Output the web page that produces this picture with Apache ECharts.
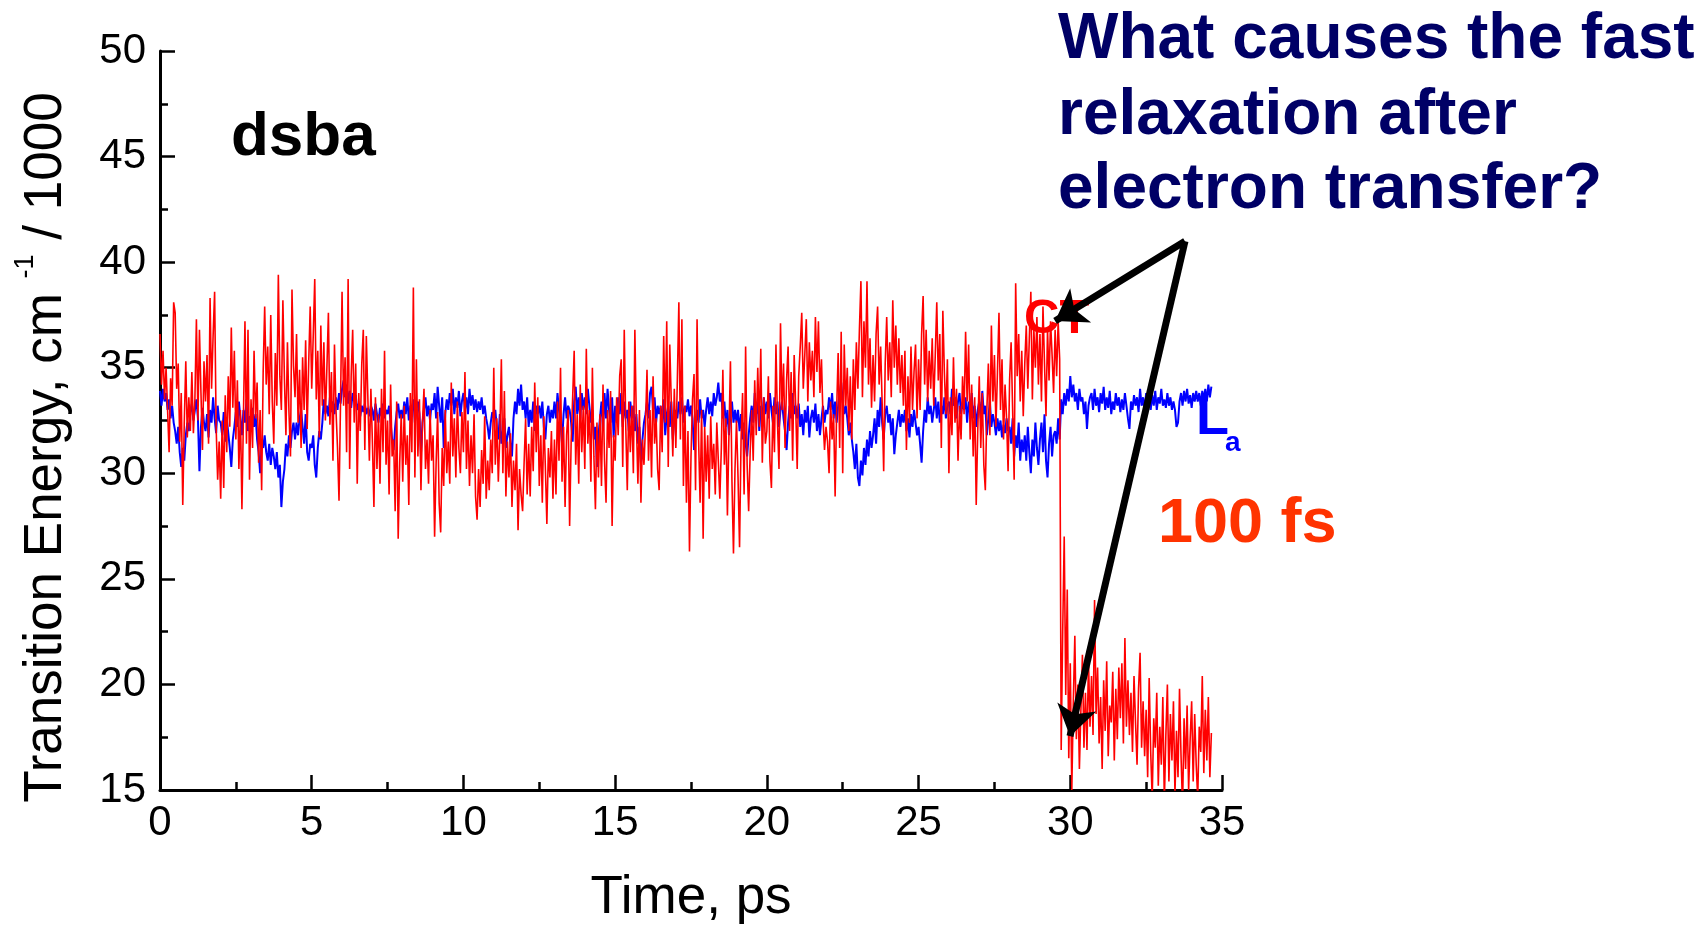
<!DOCTYPE html>
<html><head><meta charset="utf-8">
<script src="https://cdn.jsdelivr.net/npm/echarts@6/dist/echarts.min.js"></script>
<style>html,body{margin:0;padding:0;background:#fff}#chart{width:1703px;height:925px}</style>
</head><body><div id="chart"></div>
<script>
// ---- data ----
const timeStep = 0.05; // ps between samples, both series start at t = 0
const xTickValues = [0, 5, 10, 15, 20, 25, 30, 35];
const yTickValues = [15, 20, 25, 30, 35, 40, 45, 50];

// CT state transition energy (cm^-1 / 1000)
const ctValues = [
36.6,34.2,35.8,33.5,35.0,33.0,31.0,34.5,33.2,38.1,
37.6,34.0,35.2,31.5,33.8,28.5,32.4,35.3,31.7,33.6,
32.0,34.8,31.9,33.5,37.3,32.5,36.8,33.8,31.1,35.3,
33.4,35.6,31.4,38.3,34.0,36.5,38.6,32.2,29.7,31.5,
28.8,32.5,29.3,33.7,31.0,34.6,32.2,36.9,33.1,35.8,
31.6,34.4,30.2,33.0,28.3,32.7,37.2,31.4,36.8,29.7,
33.5,31.2,35.8,32.6,34.3,30.5,33.0,29.2,34.8,37.9,
34.2,36.0,32.8,37.5,33.4,31.4,35.7,33.2,39.4,34.6,
33.0,38.2,34.5,31.8,36.2,32.9,30.8,38.7,35.1,33.6,
36.6,32.4,34.9,31.2,35.5,33.0,36.3,32.1,35.2,37.9,
34.0,36.5,39.2,33.5,35.8,31.7,37.0,33.2,36.2,32.5,
35.0,37.6,32.3,34.8,30.6,36.1,33.0,31.2,28.7,33.4,
38.6,33.2,35.5,31.0,39.2,30.2,34.6,36.8,32.4,35.2,
29.5,33.8,32.0,35.2,36.8,31.1,36.5,33.6,30.6,34.0,
31.5,28.4,33.6,30.2,32.8,29.5,34.0,31.0,35.8,30.4,
32.5,29.0,34.2,30.8,31.6,28.2,33.4,26.9,30.5,32.8,
29.6,33.2,30.4,31.8,28.5,33.8,31.0,38.8,29.8,35.4,
30.8,33.5,29.2,32.4,34.0,30.2,31.6,29.5,33.0,30.6,
31.8,27.0,30.5,32.9,28.6,27.2,31.2,29.4,33.0,30.0,
31.5,29.5,34.3,30.8,32.6,29.8,33.4,31.2,30.0,32.9,
31.0,34.8,30.2,32.5,29.4,31.8,30.0,32.8,28.9,27.8,
30.2,28.4,31.1,29.5,32.7,28.8,30.6,29.2,31.6,30.0,
35.0,30.4,32.6,29.6,31.8,35.4,30.0,33.9,28.9,31.5,
29.8,31.9,28.4,30.6,29.2,31.4,27.3,30.2,29.0,28.2,
30.5,32.6,29.0,31.4,28.9,32.2,30.1,34.3,31.0,33.6,
29.4,31.8,28.6,32.7,30.3,27.6,31.2,29.8,32.0,28.8,
31.6,29.0,33.4,30.6,35.0,29.6,32.2,28.4,31.8,33.0,
27.5,31.5,33.6,35.8,30.4,32.8,29.5,34.2,31.0,33.2,
30.2,35.9,31.4,33.0,29.6,35.0,30.8,28.3,32.4,29.8,
32.8,29.4,34.2,30.6,28.6,33.0,31.2,33.9,27.5,31.8,
30.6,33.6,31.8,34.6,35.4,30.3,36.8,32.2,29.2,33.4,
31.0,33.2,30.0,36.8,32.4,29.5,33.0,28.6,31.6,30.4,
32.2,34.9,30.6,33.0,29.8,34.6,31.4,32.6,30.2,29.2,
33.2,31.0,36.5,32.4,37.2,30.3,36.1,33.4,30.8,34.0,
31.2,34.4,38.1,31.6,37.3,29.4,33.2,28.6,32.0,26.3,
30.8,33.5,34.7,29.2,37.3,31.6,28.6,33.0,26.9,32.2,
29.6,31.8,28.8,32.7,30.2,31.4,29.0,32.4,30.6,28.8,
31.2,34.9,30.4,32.6,28.0,31.8,35.3,29.6,26.2,30.2,
32.5,29.8,26.5,31.6,33.8,29.0,36.0,30.4,28.2,31.0,
33.0,30.6,34.4,31.8,35.0,32.2,35.9,30.5,33.6,31.4,
32.0,34.6,30.6,29.3,33.2,31.0,36.1,32.4,30.2,37.1,
33.0,35.2,31.2,34.4,36.0,32.0,34.8,30.6,35.6,33.2,
30.2,34.6,36.0,37.6,34.0,35.6,37.3,33.4,36.2,34.4,
35.8,33.6,37.4,34.8,37.2,33.8,35.4,32.6,31.1,32.2,
31.5,30.0,33.4,31.6,32.8,28.9,33.0,35.7,31.2,36.7,
30.0,36.1,33.2,35.0,32.0,34.6,31.6,35.4,33.0,36.2,
34.0,36.8,39.1,33.6,37.2,35.0,39.1,34.2,36.4,33.1,
35.6,33.4,36.6,37.9,34.2,36.0,33.3,30.1,35.2,37.4,
34.4,36.2,33.6,38.2,35.0,37.0,34.2,36.4,33.8,35.6,
33.2,35.8,31.1,34.6,32.4,36.0,33.0,34.8,36.1,32.6,
35.4,33.0,36.6,38.4,34.2,36.8,33.4,35.8,34.0,36.4,
33.2,35.6,38.1,34.4,36.6,31.2,37.7,34.8,32.8,35.4,
30.0,33.6,31.8,35.5,32.4,34.0,30.6,33.2,31.6,34.6,
32.8,36.7,33.4,36.1,31.6,34.2,30.8,33.6,28.5,32.0,
34.6,31.2,33.8,30.4,29.2,33.0,35.2,31.8,37.0,33.4,
35.6,32.2,34.8,37.6,33.0,35.4,31.6,34.2,32.6,30.1,
34.4,36.2,33.0,29.7,39.0,34.6,36.6,33.4,35.8,32.7,
35.2,37.0,34.0,36.4,38.6,33.5,36.8,35.0,37.4,34.2,
36.6,33.4,37.9,35.2,32.7,36.8,34.4,37.2,35.6,33.8,
36.8,34.6,37.2,35.4,
16.9,22.5,27.0,19.5,24.5,16.5,21.0,15.0,19.2,
22.3,17.4,20.0,16.0,18.8,21.4,17.0,
19.6,16.9,21.2,18.0,20.4,17.6,24.0,18.6,20.8,17.2,
19.4,16.0,20.2,17.8,21.1,16.6,19.0,18.2,20.6,16.4,
19.8,17.4,20.8,18.4,21.0,17.2,22.2,18.0,20.2,17.6,
19.6,16.8,20.4,18.2,16.2,19.8,21.5,17.0,19.2,16.6,
18.8,15.6,20.3,16.8,14.6,18.4,17.0,19.6,15.2,18.0,
16.2,19.4,14.4,17.6,20.0,15.4,18.6,16.4,19.2,14.8,
17.8,15.6,19.8,16.6,14.2,18.4,16.0,19.0,15.0,17.4,
19.2,15.4,18.6,16.2,14.6,18.0,16.8,20.4,15.8,18.8,16.4,19.4,15.6,17.7
];

// La state transition energy (cm^-1 / 1000)
const laValues = [
33.9,33.2,34.0,33.4,33.8,33.0,33.5,32.6,33.2,32.4,
32.0,31.4,32.2,31.0,30.3,31.2,30.6,31.8,32.4,32.0,
32.9,33.3,32.5,33.0,33.5,32.6,30.1,32.2,33.1,32.4,
32.0,32.8,31.7,33.0,32.4,33.6,32.6,31.9,33.2,32.5,
32.4,31.8,32.9,31.5,32.6,31.9,31.2,30.3,31.6,32.2,
32.9,32.2,33.4,32.6,31.8,33.0,32.4,33.5,32.0,32.7,
32.6,33.1,32.2,32.8,31.6,31.0,30.0,31.4,31.2,31.8,
31.0,30.6,31.4,30.4,31.2,30.8,30.2,31.0,29.8,30.4,
28.4,29.6,30.2,31.4,30.8,31.8,31.2,32.0,32.4,31.6,
32.4,31.8,32.6,33.0,32.2,31.4,32.8,31.0,30.6,31.4,
31.2,31.8,30.4,29.8,31.2,32.0,31.6,32.4,33.5,32.8,
33.2,32.7,33.6,32.9,33.4,32.8,33.6,33.0,33.8,33.3,
34.0,34.4,33.6,34.2,33.3,33.9,33.1,33.8,33.4,33.7,
33.0,33.3,32.7,33.2,32.9,33.3,32.8,33.1,32.7,33.2,
33.0,32.5,33.3,32.8,32.4,33.1,32.7,33.3,32.6,33.0,
32.8,33.2,32.4,31.6,31.1,32.2,32.9,33.3,32.6,33.0,
32.6,33.4,32.8,33.6,32.5,33.2,32.9,33.5,32.4,33.1,
33.4,32.8,30.9,32.4,33.0,33.6,32.7,33.2,32.5,33.3,
33.0,33.8,32.6,34.1,33.2,32.4,33.6,31.2,32.8,33.5,
33.0,33.8,33.2,34.0,32.8,33.6,33.1,33.9,32.7,33.4,
33.8,33.0,33.6,32.8,34.0,33.2,33.7,33.0,33.5,32.9,
33.4,33.0,33.6,32.8,33.2,32.6,32.2,31.6,32.4,32.9,
32.6,33.0,32.2,31.6,32.8,31.4,32.0,32.6,31.2,31.8,
32.2,31.4,30.8,32.6,33.4,32.8,34.0,33.2,34.2,33.0,
33.4,32.6,33.6,32.2,33.0,32.4,33.4,32.0,33.2,32.8,
33.2,32.6,33.4,32.2,31.6,32.8,33.2,32.4,33.0,32.6,
33.4,32.6,33.8,33.0,32.4,31.4,32.8,33.6,32.6,33.2,
33.0,32.4,31.5,33.4,34.1,32.8,33.6,32.6,33.8,33.0,
33.6,32.8,34.0,33.2,32.4,33.0,31.6,32.2,30.3,31.8,
32.6,33.4,32.0,33.8,32.6,34.0,33.0,32.4,33.6,31.7,
33.2,32.4,33.6,32.8,33.8,32.2,33.4,32.6,33.0,32.0,
33.4,32.6,33.2,32.0,32.8,31.4,32.2,30.5,31.6,32.4,
32.8,33.4,32.6,33.8,34.1,33.0,33.6,32.4,33.2,32.8,
33.2,32.4,33.5,31.8,32.8,33.2,32.2,33.4,31.6,32.6,
33.0,32.6,33.4,32.8,33.6,32.4,33.2,32.9,33.5,32.7,
33.2,32.6,31.1,32.2,33.0,32.4,33.5,32.6,33.0,32.2,
33.0,33.6,32.8,33.4,32.7,33.8,33.2,33.6,34.3,33.4,
33.8,32.6,33.4,32.2,33.0,31.8,32.8,33.4,32.4,33.0,
32.4,33.0,32.0,32.8,31.6,32.4,31.4,30.8,31.8,32.6,
33.2,32.4,33.8,32.8,33.4,32.0,33.2,32.6,33.6,32.8,
33.4,32.6,33.8,33.0,32.4,33.6,32.8,33.4,32.2,33.0,
33.4,32.6,32.0,31.1,32.4,33.2,32.6,33.8,32.8,33.2,
32.6,33.3,32.2,32.8,31.8,33.0,32.4,33.2,31.7,32.6,
33.0,32.4,33.3,32.0,32.8,31.8,32.6,33.2,32.4,33.0,
32.8,33.6,33.0,33.8,32.6,33.4,32.4,33.2,33.8,34.3,
33.4,32.8,33.2,32.6,31.8,32.4,31.6,31.0,30.2,31.4,
29.8,29.4,30.6,29.9,31.2,30.4,31.6,30.8,32.0,31.2,
31.8,32.6,31.4,33.0,32.2,33.6,32.4,31.6,32.8,33.2,
32.4,32.8,31.8,32.6,30.9,31.8,32.4,33.0,32.2,32.8,
32.4,33.0,32.0,32.6,31.7,32.8,32.2,33.0,32.4,31.8,
32.2,31.4,30.5,32.0,33.0,32.4,33.6,32.8,33.2,32.4,
33.0,33.6,32.6,33.4,32.4,33.2,32.8,33.6,32.6,33.2,
33.4,32.8,34.0,33.2,33.6,32.6,33.4,33.8,32.8,33.4,
33.0,33.6,32.4,33.4,32.8,33.8,32.6,33.2,32.2,33.0,
33.4,32.6,33.9,32.8,33.2,31.8,32.6,33.4,32.2,32.8,
32.4,31.8,32.6,32.0,32.5,31.7,32.3,31.9,32.6,32.0,
32.2,31.4,32.6,30.8,31.8,31.2,32.4,30.6,31.6,31.0,
31.8,30.6,32.2,31.0,30.0,31.6,30.8,32.4,31.2,30.4,
31.6,32.4,31.0,32.8,30.6,29.8,31.4,32.2,30.8,31.8,
32.0,31.4,32.6,31.6,
33.5,32.8,33.8,33.2,34.0,33.4,34.6,33.6,34.2,33.4,
33.8,33.0,34.0,33.4,33.6,32.8,33.4,32.1,33.2,33.6,
33.8,33.0,34.0,33.2,33.6,32.9,33.8,33.3,34.1,33.0,
33.6,33.1,33.9,32.8,33.4,33.0,33.8,33.2,33.6,32.9,
33.5,33.0,33.8,33.2,32.6,32.1,33.4,33.0,33.7,33.2,
33.6,32.9,34.0,33.2,33.6,33.0,33.8,33.3,33.5,33.0,
33.7,33.2,33.9,33.0,33.6,33.3,34.0,33.2,33.5,33.1,
33.8,33.2,33.6,33.0,33.4,33.0,32.2,32.4,33.4,33.8,
33.2,33.9,33.4,34.0,33.3,33.7,33.1,33.8,33.4,33.9,
33.4,33.8,33.2,33.9,33.5,34.0,33.4,34.2,33.6,34.1
];

// ---- build series points ----
const toPoints = vals => vals.map((v, i) => [Math.round(i * timeStep * 100) / 100, v]);
const ctData = toPoints(ctValues);
const laData = toPoints(laValues);

const FONT = '"Liberation Sans", Arial, sans-serif';
const chart = echarts.init(document.getElementById('chart'), null, {renderer: 'canvas'});

const option = {
  animation: false,
  backgroundColor: '#ffffff',
  grid: {left: 160, top: 51, width: 1062, height: 739, containLabel: false, outerBoundsMode: 'none'},
  xAxis: {
    type: 'value',
    min: xTickValues[0], max: xTickValues[xTickValues.length - 1],
    interval: xTickValues[1] - xTickValues[0],
    name: 'Time, ps', nameLocation: 'middle', nameGap: 78,
    nameTextStyle: {fontFamily: FONT, fontSize: 53, color: '#000', lineHeight: 60},
    axisLine: {show: true, onZero: false, lineStyle: {color: '#000', width: 3}},
    axisTick: {show: true, inside: true, length: 15, lineStyle: {color: '#000', width: 2.5}},
    minorTick: {show: true, splitNumber: 2, length: 8, lineStyle: {color: '#000', width: 2.5}},
    axisLabel: {fontFamily: FONT, fontSize: 42, color: '#000', margin: 12},
    splitLine: {show: false}
  },
  yAxis: {
    type: 'value',
    min: yTickValues[0], max: yTickValues[yTickValues.length - 1],
    interval: yTickValues[1] - yTickValues[0],
    name: '{a|Transition Energy, cm }{s|-1}{a| / 1000}',
    nameLocation: 'middle', nameRotate: 90, nameGap: 80,
    nameTextStyle: {
      fontFamily: FONT, color: '#000', padding: [0, 54, 0, 0],
      rich: {
        a: {fontFamily: FONT, fontSize: 53, lineHeight: 68, color: '#000'},
        s: {fontFamily: FONT, fontSize: 27, lineHeight: 27, color: '#000', verticalAlign: 'top'}
      }
    },
    axisLine: {show: true, onZero: false, lineStyle: {color: '#000', width: 3}},
    axisTick: {show: true, inside: true, length: 15, lineStyle: {color: '#000', width: 2.5}},
    minorTick: {show: true, splitNumber: 2, length: 8, lineStyle: {color: '#000', width: 2.5}},
    axisLabel: {fontFamily: FONT, fontSize: 42, color: '#000', margin: 14},
    splitLine: {show: false}
  },
  series: [
    {
      name: 'La', type: 'line', data: laData, symbol: 'none', sampling: 'none',
      lineStyle: {color: '#0000ff', width: 2}, z: 2, silent: true
    },
    {
      name: 'CT', type: 'line', data: ctData, symbol: 'none', sampling: 'none',
      lineStyle: {color: '#ff0000', width: 1.6}, z: 3, silent: true,
      markLine: {
        silent: true, animation: false,
        symbol: ['none', 'arrow'], symbolSize: 30,
        label: {show: false},
        lineStyle: {type: 'solid', color: '#000', width: 7},
        emphasis: {disabled: true},
        data: [
          [{coord: [33.78, 40.99]}, {coord: [29.50, 37.21]}],
          [{coord: [33.78, 40.99]}, {coord: [29.99, 17.55]}]
        ]
      }
    }
  ],
  graphic: [
    {type: 'text', left: 231, top: 107, style: {text: 'dsba', font: 'bold 62px ' + FONT, fill: '#000'}},
    {type: 'text', x: 1058, y: 40, style: {text: 'What causes the fast', font: 'bold 64px ' + FONT, fill: '#000066', verticalAlign: 'middle'}},
    {type: 'text', x: 1058, y: 116, style: {text: 'relaxation after', font: 'bold 64px ' + FONT, fill: '#000066', verticalAlign: 'middle'}},
    {type: 'text', x: 1058, y: 190, style: {text: 'electron transfer?', font: 'bold 64px ' + FONT, fill: '#000066', verticalAlign: 'middle'}},
    {type: 'text', x: 1024, y: 319, z: 1, style: {text: 'CT', font: 'bold 49px ' + FONT, fill: '#ff0000', verticalAlign: 'middle'}},
    {type: 'text', x: 1196, y: 419, style: {text: 'L', font: 'bold 54px ' + FONT, fill: '#0000ff', verticalAlign: 'middle'}},
    {type: 'text', x: 1225, y: 443, style: {text: 'a', font: 'bold 28px ' + FONT, fill: '#0000ff', verticalAlign: 'middle'}},
    {type: 'text', x: 1158, y: 525, style: {text: '100 fs', font: 'bold 63px ' + FONT, fill: '#ff3300', verticalAlign: 'middle'}}
  ]
};
chart.setOption(option);
</script>
</body></html>
